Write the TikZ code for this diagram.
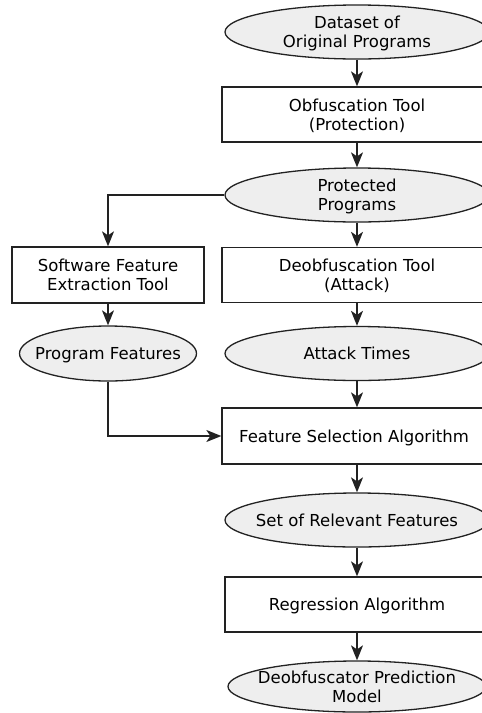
\documentclass[tikz,border=0pt]{standalone}
\usepackage{fontspec}
\setmainfont{DejaVu Sans}
\usetikzlibrary{shapes.geometric,arrows.meta}
\definecolor{edge}{HTML}{222222}
\definecolor{datafill}{HTML}{EEEEEE}
% centred lines in a box of no size, so every shape keeps its set size
\newcommand{\zerolines}[1]{\makebox[0pt]{\raisebox{-6.8pt}[0pt][0pt]{\begin{tabular}{@{}c@{}}#1\end{tabular}}}}
\tikzset{
  base/.style={draw=edge, line width=1.3pt, inner sep=0pt,
    font=\fontsize{16.5}{19.3}\selectfont},
  data/.style={base, ellipse, fill=datafill, minimum width=264pt, minimum height=54pt},
  tool/.style={base, rectangle, fill=white, minimum width=270pt, minimum height=55pt},
  flow/.style={draw=edge, line width=1.3pt,
    -{Stealth[length=15pt, width=12pt, inset=4pt]}},
}
\begin{document}
\begin{tikzpicture}[x=1pt, y=-1pt]
  \useasboundingbox (0,0) rectangle (482,713);
  \begin{scope}
  \clip (0,0) rectangle (482,713);
  \node[data] (dataset) at (357,32) {\zerolines{Dataset of\\Original Programs}};
  \node[tool] (obf) at (357,114.5) {\zerolines{Obfuscation Tool\\(Protection)}};
  \node[data] (prot) at (357,195) {\zerolines{Protected\\Programs}};
  \node[tool, minimum width=192pt, minimum height=56pt] (extract) at (108,275) {\zerolines{Software Feature\\Extraction Tool}};
  \node[tool] (deobf) at (357,275) {\zerolines{Deobfuscation Tool\\(Attack)}};
  \node[data, minimum width=177pt, minimum height=55pt] (pfeat) at (108,353.5) {\zerolines{Program Features}};
  \node[data] (times) at (357,353.5) {\zerolines{Attack Times}};
  \node[tool, minimum height=56pt] (select) at (357,436) {\zerolines{\hspace*{-6pt}Feature Selection Algorithm}};
  \node[data] (relevant) at (357,520) {\zerolines{Set of Relevant Features}};
  \node[tool, minimum width=264pt] (regress) at (357,604.5) {\zerolines{Regression Algorithm}};
  \node[data, minimum width=258pt, minimum height=51pt] (model) at (357,686.5) {\zerolines{Deobfuscator Prediction\\Model}};

  \draw[flow] (dataset) -- (obf);
  \draw[flow] (obf) -- (prot);
  \draw[flow] (prot) -- (deobf);
  \draw[flow] (prot.west) -| (extract.north);
  \draw[flow] (extract) -- (pfeat);
  \draw[flow] (deobf) -- (times);
  \draw[flow] (times) -- (select);
  \draw[flow] (pfeat.south) |- (select.west);
  \draw[flow] (select) -- (relevant);
  \draw[flow] (relevant) -- (regress);
  \draw[flow] (regress) -- (model);
  \end{scope}
\end{tikzpicture}
\end{document}
